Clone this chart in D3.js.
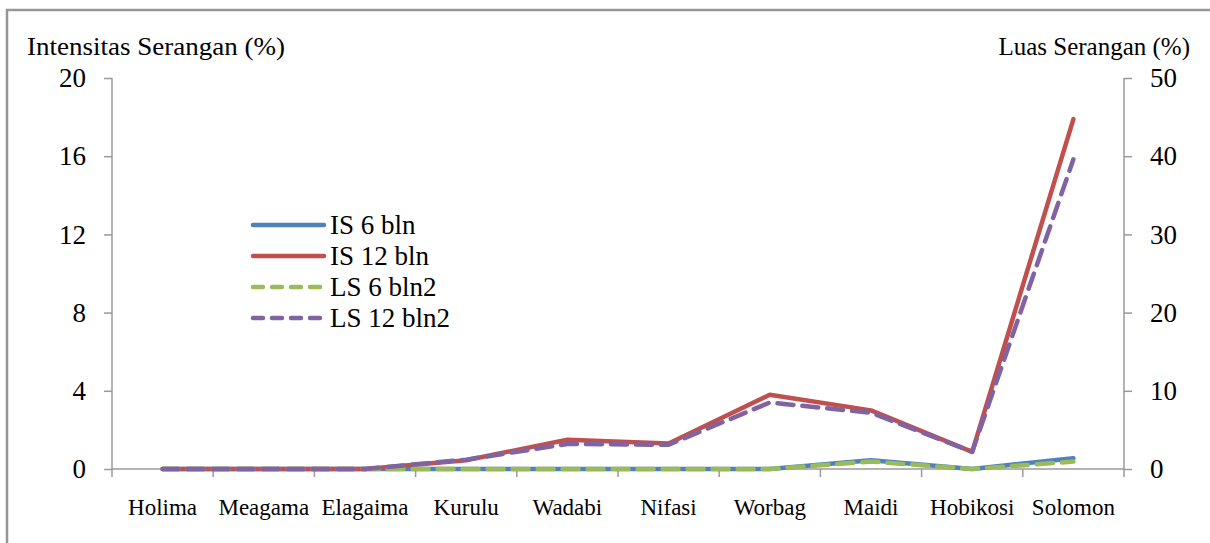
<!DOCTYPE html>
<html><head><meta charset="utf-8">
<script src="https://cdn.jsdelivr.net/npm/d3@7/dist/d3.min.js"></script>
<style>
html,body{margin:0;padding:0;background:#fff;}
svg{display:block;}
svg text{font-family:"Liberation Serif","Times New Roman",serif;}
</style></head>
<body>
<svg id="chart" width="1210" height="543"></svg>
<script>
const categories = ["Holima","Meagama","Elagaima","Kurulu","Wadabi","Nifasi","Worbag","Maidi","Hobikosi","Solomon"];
const is6  = [0,0,0,0,0,0,0,0.45,0,0.55];
const is12 = [0,0,0,0.45,1.5,1.3,3.8,3.0,0.88,17.9];
const ls6  = [0,0,0,0,0,0,0,0.95,0,0.95];
const ls12 = [0,0,0,1.2,3.2,3.1,8.5,7.2,2.2,39.6];
const leftTicks = [0,4,8,12,16,20];
const rightTicks = [0,10,20,30,40,50];
const seriesNames = ["IS 6 bln","IS 12 bln","LS 6 bln2","LS 12 bln2"];

const svg = d3.select("#chart");
const L = 112, R = 1124, T = 78, B = 469;
const axisColor = "#9a9a9a";
const serif = "Liberation Serif, Times New Roman, serif";

// frame
svg.append("path").attr("d","M7,543 V10 H1210").attr("fill","none").attr("stroke","#969696").attr("stroke-width",2.5);

const x = d3.scaleBand().domain(categories).range([L,R]);
const yL = d3.scaleLinear().domain([0,20]).range([B,T]);
const yR = d3.scaleLinear().domain([0,50]).range([B,T]);

// left axis
const gL = svg.append("g").attr("transform",`translate(${L},0)`)
  .call(d3.axisLeft(yL).tickValues(leftTicks).tickSize(8).tickPadding(18));
// right axis
const gR = svg.append("g").attr("transform",`translate(${R},0)`)
  .call(d3.axisRight(yR).tickValues(rightTicks).tickSize(8).tickPadding(18));
[gL,gR].forEach(g=>{
  g.attr("font-family",serif);
  g.select(".domain").attr("stroke",axisColor).attr("stroke-width",1.5).attr("d",`M0,${T}V${B}`);
  g.selectAll(".tick line").attr("stroke",axisColor).attr("stroke-width",1.5);
  g.selectAll(".tick text").attr("font-family",serif).attr("font-size",27).attr("fill","#000");
});

// category axis
const gX = svg.append("g").attr("transform",`translate(0,${B})`);
gX.append("line").attr("x1",L).attr("x2",R).attr("stroke",axisColor).attr("stroke-width",1.5);
const bounds = categories.map(c=>x(c)).concat([R]);
gX.selectAll("line.tk").data(bounds).join("line").attr("class","tk")
  .attr("x1",d=>d).attr("x2",d=>d).attr("y1",0).attr("y2",8)
  .attr("stroke",axisColor).attr("stroke-width",1.5);
gX.selectAll("text").data(categories).join("text")
  .attr("x",d=>x(d)+x.bandwidth()/2).attr("y",46)
  .attr("font-family",serif)
  .attr("text-anchor","middle").attr("font-size",23).attr("fill","#000").text(d=>d);

// titles
svg.append("text").attr("x",27).attr("y",55).attr("font-size",26).attr("fill","#000")
  .attr("font-family",serif)
  .attr("textLength",258).attr("lengthAdjust","spacingAndGlyphs").text("Intensitas Serangan (%)");
svg.append("text").attr("x",1190).attr("y",55).attr("font-size",25).attr("fill","#000")
  .attr("font-family",serif)
  .attr("text-anchor","end").text("Luas Serangan (%)");

// lines
const colors = ["#4F81BD","#C0504D","#9BBB59","#8064A2"];
const dashes = [null,null,"16,9","16,9"];
const data = [is6,is12,ls6,ls12];
const scales = [yL,yL,yR,yR];
data.forEach((vals,i)=>{
  const line = d3.line().x((d,j)=>x(categories[j])+x.bandwidth()/2).y(d=>scales[i](d));
  svg.append("path").datum(vals).attr("d",line).attr("fill","none")
    .attr("stroke",colors[i]).attr("stroke-width",4.5)
    .attr("stroke-linejoin","round").attr("stroke-linecap","round")
    .attr("stroke-dasharray",dashes[i]);
});

// legend
const lg = svg.append("g");
const rowsY = [225,256,287,318];
seriesNames.forEach((n,i)=>{
  lg.append("line").attr("x1",253).attr("x2",324).attr("y1",rowsY[i]).attr("y2",rowsY[i])
    .attr("stroke",colors[i]).attr("stroke-width",4.5).attr("stroke-linecap","round")
    .attr("stroke-dasharray",dashes[i]?"10,9":null);
  lg.append("text").attr("x",330).attr("y",rowsY[i]+9).attr("font-size",27)
    .attr("font-family",serif).attr("fill","#000").text(n);
});
</script>
</body></html>
